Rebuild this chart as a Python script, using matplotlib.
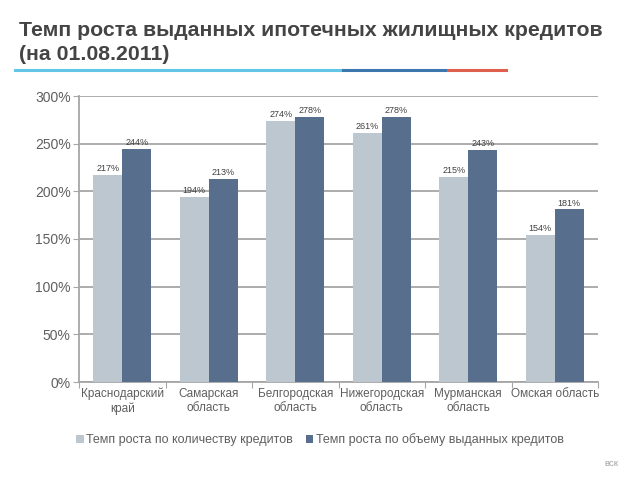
import matplotlib
matplotlib.use('Agg')
from matplotlib import pyplot as plt
from matplotlib.lines import Line2D
import numpy as np

plt.rcParams['font.family'] = ['Liberation Sans', 'DejaVu Sans']

regions = ['Краснодарский\nкрай', 'Самарская\nобласть', 'Белгородская\nобласть',
           'Нижегородская\nобласть', 'Мурманская\nобласть', 'Омская область']
count_growth = [217, 194, 274, 261, 215, 154]    # % by number of loans
volume_growth = [244, 213, 278, 278, 243, 181]   # % by volume
series_names = ['Темп роста по количеству кредитов', 'Темп роста по объему выданных кредитов']
yticks = [0, 50, 100, 150, 200, 250, 300]

light = '#BDC7D0'
dark = '#586E8D'
grid_c = '#A6A6A6'
text_c = '#5F5F5F'

fig = plt.figure(figsize=(6.4, 4.8), dpi=100)

# title
fig.text(19/640, 1-30/480, 'Темп роста выданных ипотечных жилищных кредитов',
         fontsize=15.3, fontweight='bold', color='#444444', va='center', ha='left')
fig.text(19/640, 1-55/480, '(на 01.08.2011)',
         fontsize=15.3, fontweight='bold', color='#444444', va='center', ha='left')

# coloured rule under the title
for x0, x1, c in [(15, 341, '#62C6E8'), (343, 446, '#3C78AE'), (448, 506, '#E0604E')]:
    fig.add_artist(Line2D([x0/640, x1/640], [1-70/480, 1-70/480], color=c, lw=2.2,
                          transform=fig.transFigure))

ax = fig.add_axes([79/640, 1-382/480, (598-79)/640, (382-96)/480])
x = np.arange(len(regions))
w = 0.335
b1 = ax.bar(x - w/2, count_growth, w, color=light, label=series_names[0], zorder=3)
b2 = ax.bar(x + w/2, volume_growth, w, color=dark, label=series_names[1], zorder=3)

for bars, vals in [(b1, count_growth), (b2, volume_growth)]:
    for r, v in zip(bars, vals):
        ax.text(r.get_x() + r.get_width()/2, v + 2, '%d%%' % v, ha='center', va='bottom',
                fontsize=6.5, color='#404040', zorder=4)

ax.set_xlim(-0.5, len(regions) - 0.5)
ax.set_ylim(0, 300)
ax.set_yticks(yticks)
ax.set_yticklabels(['%d%%' % t for t in yticks], fontsize=10, color=text_c)
ax.yaxis.grid(True, color=grid_c, lw=1.3, zorder=0)
ax.set_axisbelow(True)

ax.set_xticks(np.arange(len(regions) + 1) - 0.5)
ax.set_xticklabels([])
ax.set_xticks(x, minor=True)
ax.set_xticklabels(regions, minor=True, fontsize=8.5, color=text_c, linespacing=1.3)
ax.tick_params(axis='x', which='minor', length=0, pad=4)
ax.tick_params(axis='x', which='major', length=4, color=grid_c, direction='out')
ax.tick_params(axis='y', length=4, color=grid_c, direction='out', pad=2)

for s in ['top', 'right']:
    ax.spines[s].set_visible(False)
for s in ['left', 'bottom']:
    ax.spines[s].set_color(grid_c)
    ax.spines[s].set_linewidth(1.3)

leg = fig.legend(handles=[b1, b2], loc='center', bbox_to_anchor=(320/640, 1-440/480),
                 ncol=2, frameon=False, fontsize=9, handlelength=0.6, handleheight=0.6,
                 handletextpad=0.2, columnspacing=1.0)
for t in leg.get_texts():
    t.set_color(text_c)

# small logo mark
fig.text(612/640, 1-465/480, 'ВСК', fontsize=5, fontweight='bold', color='#B0B0B0',
         ha='center', va='center')

fig.savefig('out.png', dpi=100)
